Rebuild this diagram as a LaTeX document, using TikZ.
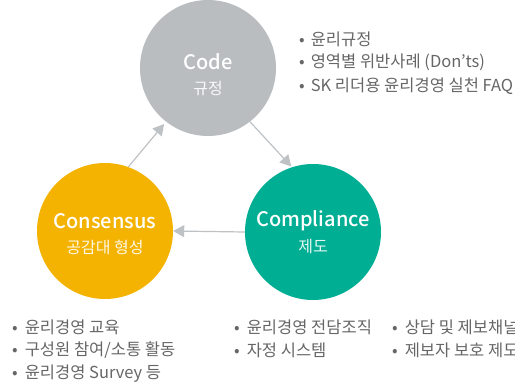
\documentclass[tikz,border=0pt]{standalone}
\usepackage{fontspec}
\setmainfont{Noto Sans CJK KR}
\newfontfamily\krmed{Noto Sans CJK KR Medium}
\usetikzlibrary{arrows.meta}
\definecolor{cgray}{HTML}{B9BDC0}
\definecolor{cyellow}{HTML}{F4B300}
\definecolor{cteal}{HTML}{00AE93}
\definecolor{arrgray}{HTML}{BEC2C5}
\definecolor{txtgray}{HTML}{666666}
\begin{document}
\begin{tikzpicture}[x=1pt,y=-1pt,
  circ/.style={circle,minimum size=136pt,inner sep=0pt,align=center,text=white},
  ttl/.style={text=white,font=\krmed\fontsize{20}{22}\selectfont},
  sub/.style={font=\fontsize{16}{18}\selectfont},
  conn/.style={draw=arrgray,line width=1.2pt,-{Triangle[width=12pt,length=11pt]}},
  bl/.style={anchor=west,text=txtgray,inner sep=0pt,font=\fontsize{16.5}{18}\selectfont}]
\useasboundingbox (0,0) rectangle (515,386);
\clip (0,0) rectangle (515,386);
\node[circ,fill=cgray] (code) at (208,68) {};
\node[circ,fill=cyellow] (cons) at (105,231) {};
\node[circ,fill=cteal] (comp) at (313,232) {};
\node[ttl] (codet) at (208,62) {Code};
\node[sub,text=white!92!cgray] (codes) at (208,88) {규정};
\node[ttl] (const) at (105,221) {Consensus};
\node[sub,text=white!90!cyellow] (conss) at (105,247) {공감대 형성};
\node[ttl] (compt) at (313,221) {Compliance};
\node[sub,text=white!90!cteal] (comps) at (313,247) {제도};
\draw[conn,shorten >=3pt] (cons.70) -- (code.232);
\draw[conn,shorten >=1pt] (code.308) -- (comp.108);
\draw[conn] (comp.180) -- (cons.0);
% top right
\node[bl] (a1) at (299,39) {•\hspace{6pt}윤리규정};
\node[bl] (a2) at (299,62) {•\hspace{6pt}영역별 위반사례 (Don’ts)};
\node[bl] (a3) at (299,86) {•\hspace{6pt}SK 리더용 윤리경영 실천 FAQ};
% bottom left
\node[bl] (b1) at (12,327) {•\hspace{7pt}윤리경영 교육};
\node[bl] (b2) at (12,350) {•\hspace{7pt}구성원 참여/소통 활동};
\node[bl] (b3) at (12,374) {•\hspace{7pt}윤리경영 Survey 등};
% bottom middle
\node[bl] (c1) at (234,327) {•\hspace{7pt}윤리경영 전담조직};
\node[bl] (c2) at (234,350) {•\hspace{7pt}자정 시스템};
% bottom right
\node[bl] (d1) at (392,327) {•\hspace{7pt}상담 및 제보채널};
\node[bl] (d2) at (392,350) {•\hspace{7pt}제보자 보호 제도};
\end{tikzpicture}
\end{document}
